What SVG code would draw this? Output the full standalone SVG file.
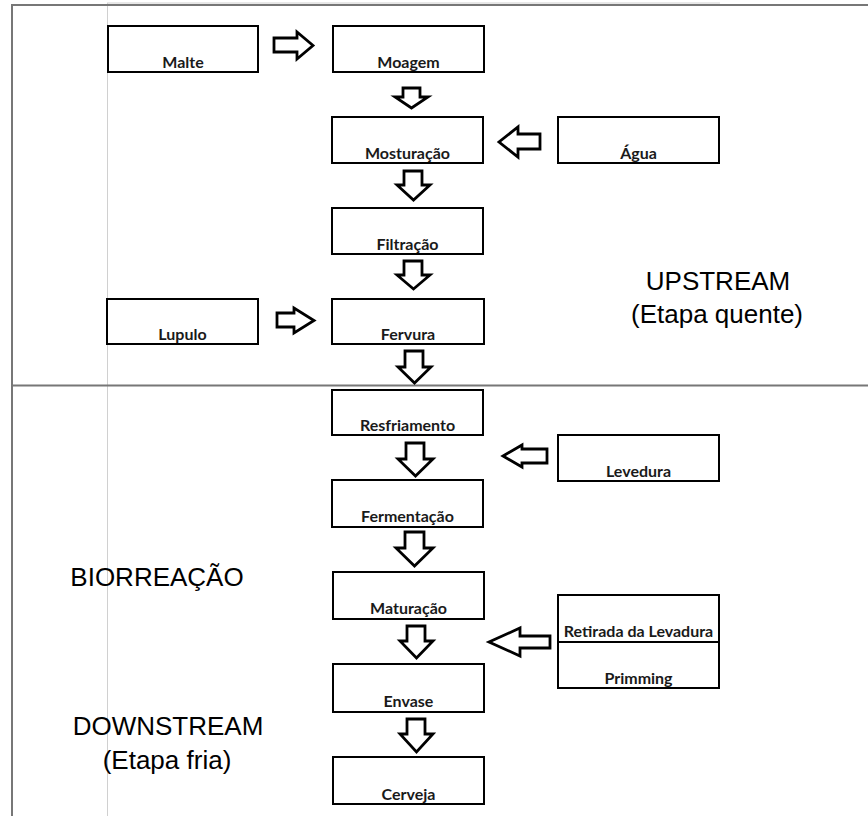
<svg xmlns="http://www.w3.org/2000/svg" width="868" height="816" viewBox="0 0 868 816">
<style>
.box{fill:#fff;stroke:#000;stroke-width:2}
.arr{fill:#fff;stroke:#000;stroke-width:2.8;stroke-linejoin:miter}
.lbl{font-family:Lato,"Open Sans",sans-serif;font-weight:bold;font-size:16px;fill:#1a1a1a;text-anchor:middle}
.big{font-family:"Liberation Sans",Arial,sans-serif;font-size:26px;fill:#000;text-anchor:middle}
.frame{stroke:#777;stroke-width:2;fill:none}
.thin{stroke:#d0d0d0;stroke-width:1;fill:none}
</style>
<rect width="868" height="816" fill="#fff"/>
<g id="frame">
<line class="thin" x1="107" y1="3" x2="720" y2="3"/>
<line class="thin" x1="107.5" y1="3" x2="107.5" y2="816"/>
<line class="frame" x1="11" y1="5" x2="868" y2="5"/>
<line class="frame" x1="12" y1="4" x2="12" y2="816"/>
<line class="frame" x1="11" y1="385.5" x2="868" y2="385.5"/>
</g>
<g id="labels">
<text class="big" x="718" y="290">UPSTREAM</text>
<text class="big" x="717" y="323">(Etapa quente)</text>
<text class="big" x="157" y="586">BIORREAÇÃO</text>
<text class="big" x="168" y="735">DOWNSTREAM</text>
<text class="big" x="167" y="769">(Etapa fria)</text>
</g>
<g id="connectors">
<path class="arr" d="M274,38 H297 V32 L313,45.5 L297,59 V52 H274 Z"/>
<path class="arr" d="M277,313 H294 V308 L314,320.5 L294,333 V327 H277 Z"/>
<path class="arr" d="M540,134 H518 V127 L499,142 L518,157 V149 H540 Z"/>
<path class="arr" d="M547,449 H522 V445 L503,456 L522,467 V463 H547 Z"/>
<path class="arr" d="M550,636 H520 V628 L489,642 L520,656 V648 H550 Z"/>
<path class="arr" d="M403,88 H420 V97 H428 L411.5,108 L395,97 H403 Z"/>
<path class="arr" d="M404,171 H422 V185 H430 L413.5,200 L397,185 H404 Z"/>
<path class="arr" d="M404,261 H422 V275 H430 L413.5,289 L397,275 H404 Z"/>
<path class="arr" d="M405,351 H423 V367 H431 L414.5,383 L398,367 H405 Z"/>
<path class="arr" d="M406,443 H424 V459 H433 L415.5,476 L398,459 H406 Z"/>
<path class="arr" d="M405,532 H424 V548 H433 L414.5,566 L396,548 H405 Z"/>
<path class="arr" d="M407,626 H425 V641 H433 L416.5,658 L400,641 H407 Z"/>
<path class="arr" d="M407,719 H425 V734 H433 L416.5,752 L400,734 H407 Z"/>
</g>
<g id="malte"><rect class="box" x="108" y="26" width="150" height="46"/><text class="lbl" x="183" y="68">Malte</text></g>
<g id="moagem"><rect class="box" x="333" y="26" width="151" height="46"/><text class="lbl" x="408.5" y="68">Moagem</text></g>
<g id="mosturacao"><rect class="box" x="332" y="117" width="151" height="46"/><text class="lbl" x="407.5" y="159">Mosturação</text></g>
<g id="agua"><rect class="box" x="558" y="117" width="161" height="46"/><text class="lbl" x="638.5" y="159">Água</text></g>
<g id="filtracao"><rect class="box" x="332" y="208" width="151" height="46"/><text class="lbl" x="407.5" y="250">Filtração</text></g>
<g id="lupulo"><rect class="box" x="107" y="299" width="151" height="45"/><text class="lbl" x="182.5" y="340">Lupulo</text></g>
<g id="fervura"><rect class="box" x="332" y="299" width="152" height="45"/><text class="lbl" x="408" y="340">Fervura</text></g>
<g id="resfriamento"><rect class="box" x="332" y="390" width="151" height="45"/><text class="lbl" x="407.5" y="431">Resfriamento</text></g>
<g id="levedura"><rect class="box" x="558" y="435" width="161" height="46"/><text class="lbl" x="638.5" y="477">Levedura</text></g>
<g id="fermentacao"><rect class="box" x="332" y="480" width="151" height="47"/><text class="lbl" x="407.5" y="522">Fermentação</text></g>
<g id="maturacao"><rect class="box" x="333" y="572" width="151" height="47"/><text class="lbl" x="408.5" y="614">Maturação</text></g>
<g id="retirada"><rect class="box" x="558" y="595" width="161" height="47"/><text class="lbl" x="638.5" y="637">Retirada da Levadura</text></g>
<g id="primming"><rect class="box" x="558" y="642" width="161" height="46"/><text class="lbl" x="638.5" y="684">Primming</text></g>
<g id="envase"><rect class="box" x="333" y="664" width="151" height="48"/><text class="lbl" x="408.5" y="707">Envase</text></g>
<g id="cerveja"><rect class="box" x="333" y="757" width="151" height="47"/><text class="lbl" x="408.5" y="800">Cerveja</text></g>
</svg>
